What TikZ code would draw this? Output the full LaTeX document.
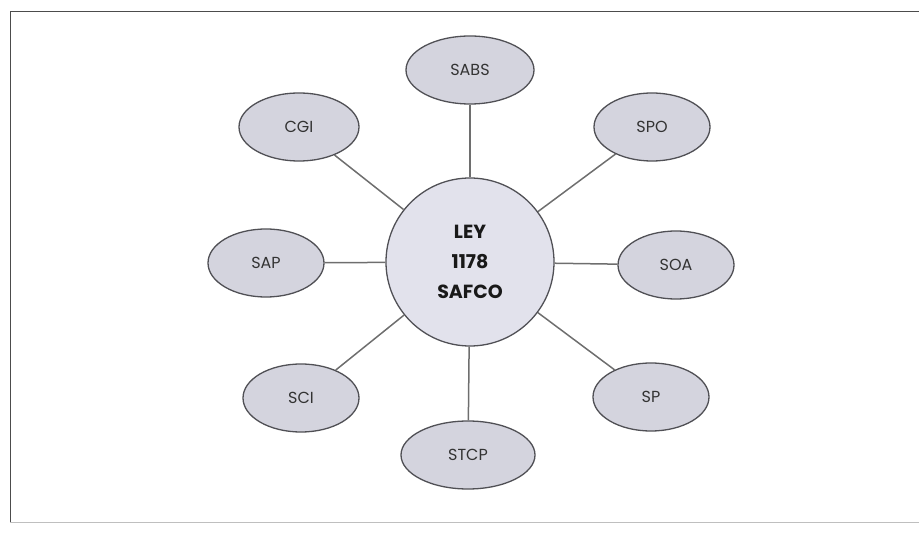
\documentclass[tikz,border=0pt]{standalone}
\usepackage{fontspec}
\setmainfont{Poppins}
\usetikzlibrary{shapes.geometric}
\definecolor{ellfill}{RGB}{212,212,222}
\definecolor{cenfill}{RGB}{226,226,236}
\definecolor{edge}{RGB}{80,80,85}
\definecolor{link}{RGB}{110,110,110}
\tikzset{
  sat/.style={ellipse, draw=edge, line width=1.3pt, fill=ellfill, minimum width=#1, minimum height=68pt, inner sep=0pt, font=\fontsize{16}{18}\selectfont, text=black!80},
  sat/.default=118pt,
  hub/.style={circle, draw=edge, line width=1.3pt, fill=cenfill, minimum size=168pt, inner sep=0pt, font=\bfseries\fontsize{19}{30}\selectfont, align=center, text=black!90},
  spoke/.style={draw=link, line width=1.5pt},
  frame/.style={draw=black!70, line width=1pt}
}
\begin{document}
\begin{tikzpicture}[x=1pt,y=-1pt]
\useasboundingbox (0,0) rectangle (919,534);
\draw[frame] (940,12) -- (10,12) -- (10,522);
\draw[black!25, line width=0.8pt] (10,522) -- (940,522);
\node[hub] (c) at (470,262) {LEY\\1178\\SAFCO};
\node[sat=128pt] (sabs) at (470,70) {SABS};
\node[sat=120pt] (cgi) at (299,127) {CGI};
\node[sat=116pt] (spo) at (652,127) {SPO};
\node[sat=116pt] (sap) at (266,263) {SAP};
\node[sat=116pt] (soa) at (676,265) {SOA};
\node[sat=116pt] (sci) at (301,398) {SCI};
\node[sat=134pt] (stcp) at (468,455) {STCP};
\node[sat=116pt] (sp) at (651,397) {SP};
\foreach \n in {sabs,cgi,spo,sap,soa,sci,stcp,sp}{
  \draw[spoke] (c) -- (\n);
}
\end{tikzpicture}
\end{document}
